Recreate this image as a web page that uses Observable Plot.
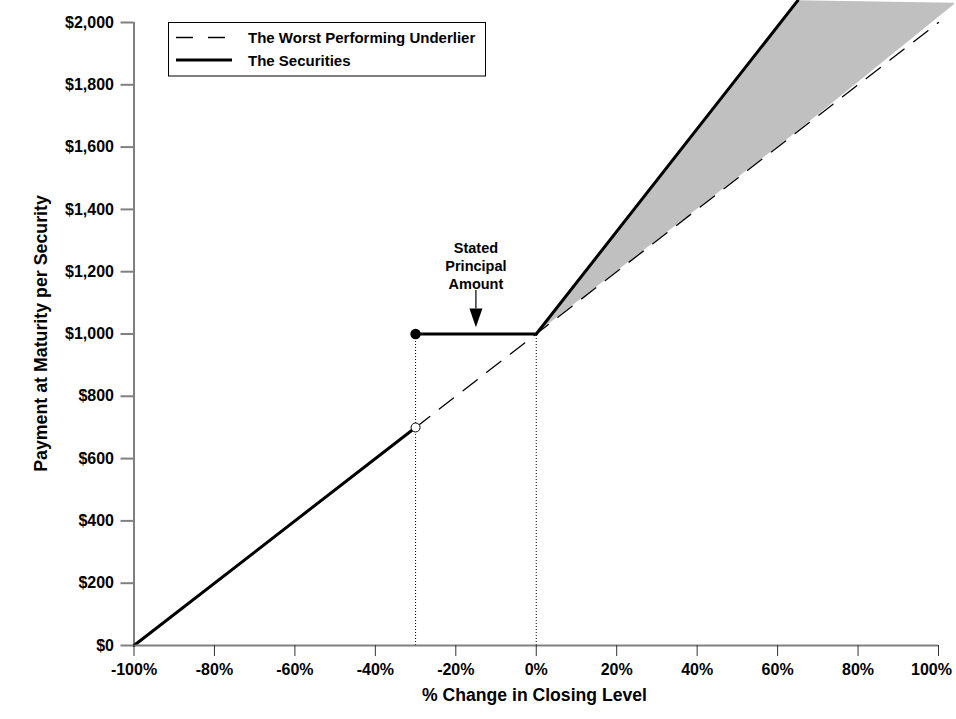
<!DOCTYPE html>
<html>
<head>
<meta charset="utf-8">
<script src="https://cdn.jsdelivr.net/npm/d3@7"></script>
<script src="https://cdn.jsdelivr.net/npm/@observablehq/plot@0.6"></script>
<style>
  html, body { margin: 0; padding: 0; background: #fff; }
  #chart svg { display: block; }
</style>
</head>
<body>
<div id="chart"></div>
<script>
// ---- data ----
const xTicks = [-100, -80, -60, -40, -20, 0, 20, 40, 60, 80, 100];
const yTicks = [0, 200, 400, 600, 800, 1000, 1200, 1400, 1600, 1800, 2000];

// The Securities (payment at maturity)
const secLowX = [-100, -30];
const secLowY = [0, 700];
const secFlatX = [-30, 0];
const secFlatY = [1000, 1000];
const secUpX = [0, 65];
const secUpY = [1000, 2070];

// The Worst Performing Underlier
const undX = [-30, 100];
const undY = [700, 2000];

// Shaded region between securities and underlier
const shadeX = [0, 65, 104];
const shadeLow = [1000, 1650, 2058];
const shadeHigh = [1000, 2070, 2062];

// Markers
const filledPt = {x: -30, y: 1000};
const openPt = {x: -30, y: 700};
const guideX = [-30, 0];
const guideTop = 1000;

// Annotation
const noteX = -15;
const noteY = 1222;
const noteText = "Stated\nPrincipal\nAmount";
const arrowTop = 1140;
const arrowBase = 1080;
const arrowTip = 1022;

const legendItems = ["The Worst Performing Underlier", "The Securities"];
const xTitle = "% Change in Closing Level";
const yTitle = "Payment at Maturity per Security";

// ---- tables ----
const toRows = (xs, ys) => xs.map((x, i) => ({x, y: ys[i]}));
const shadeRows = shadeX.map((x, i) => ({x, y1: shadeLow[i], y2: shadeHigh[i]}));
const lastX = xTicks[xTicks.length - 1];
const fmtX = d => d + "%";

const arrowHead = {
  draw(context) {
    context.moveTo(0, 0);
    context.lineTo(-6.5, -18.6);
    context.lineTo(6.5, -18.6);
    context.closePath();
  }
};

const font = "'Liberation Sans', Arial, Helvetica, sans-serif";

const chart = Plot.plot({
  width: 956,
  height: 719,
  marginLeft: 133.5,
  marginRight: 18,
  marginTop: 22,
  marginBottom: 74,
  style: {fontFamily: font, background: "#fff", color: "#000"},
  x: {domain: [-100, 100]},
  y: {domain: [0, 2000]},
  marks: [
    Plot.areaY(shadeRows, {x: "x", y1: "y1", y2: "y2", fill: "#c0c0c0", curve: "linear"}),
    Plot.ruleX(guideX, {y1: 0, y2: guideTop, stroke: "#000", strokeWidth: 1, strokeDasharray: "1,2"}),
    Plot.line(toRows(undX, undY), {x: "x", y: "y", stroke: "#000", strokeWidth: 1.3, strokeDasharray: "18,12"}),
    Plot.line(toRows(secLowX, secLowY), {x: "x", y: "y", stroke: "#000", strokeWidth: 3}),
    Plot.line(toRows(secFlatX, secFlatY), {x: "x", y: "y", stroke: "#000", strokeWidth: 3}),
    Plot.line(toRows(secUpX, secUpY), {x: "x", y: "y", stroke: "#000", strokeWidth: 3}),
    Plot.dot([filledPt], {x: "x", y: "y", r: 4.5, fill: "#000", stroke: "#000"}),
    Plot.dot([openPt], {x: "x", y: "y", r: 4.5, fill: "#fff", stroke: "#000", strokeWidth: 1}),
    Plot.ruleX([noteX], {y1: arrowBase, y2: arrowTop, stroke: "#000", strokeWidth: 1.2}),
    Plot.dot([{x: noteX, y: arrowTip}], {x: "x", y: "y", r: 5, symbol: arrowHead, fill: "#000", stroke: "none"}),
    Plot.text([noteText], {x: noteX, y: noteY, text: d => d, fontSize: 14.5, fontWeight: "bold", lineHeight: 1.25, textAnchor: "middle", fill: "#000"}),
    Plot.ruleY([0], {x1: -100, x2: 100, stroke: "#808080", strokeWidth: 2}),
    Plot.ruleX([-100], {y1: 0, y2: 2000, stroke: "#000", strokeWidth: 1}),
    Plot.axisY({ticks: yTicks, tickSize: 13, tickPadding: 7, tickFormat: d => "$" + d3.format(",")(d),
      fontSize: 16, fontWeight: "bold", stroke: "#808080", strokeWidth: 2, fill: "#000", label: null}),
    Plot.axisX({ticks: xTicks, tickSize: 11, tickPadding: 7, tickFormat: d => d === lastX ? "" : fmtX(d),
      fontSize: 16, fontWeight: "bold", stroke: "#333", strokeWidth: 1, fill: "#000", label: null}),
    Plot.text([lastX], {x: d => d, y: 0, text: fmtX, dy: 24, dx: -7, fontSize: 16, fontWeight: "bold", fill: "#000"})
  ]
});

document.getElementById("chart").appendChild(chart);

// ---- titles and legend ----
const svg = d3.select(chart);
svg.append("text")
  .attr("x", 534.5).attr("y", 701)
  .attr("text-anchor", "middle")
  .style("font-family", font).style("font-size", "17.6px").style("font-weight", "bold")
  .text(xTitle);
svg.append("text")
  .attr("transform", "translate(47,333.5) rotate(-90)")
  .attr("text-anchor", "middle")
  .style("font-family", font).style("font-size", "17.8px").style("font-weight", "bold")
  .text(yTitle);

const lg = svg.append("g").attr("text-anchor", "start");
lg.append("rect").attr("x", 168.5).attr("y", 22.5).attr("width", 317).attr("height", 53.5)
  .attr("fill", "#fff").attr("stroke", "#000").attr("stroke-width", 1);
lg.append("line").attr("x1", 176).attr("x2", 232).attr("y1", 37.5).attr("y2", 37.5)
  .attr("stroke", "#000").attr("stroke-width", 1.3).attr("stroke-dasharray", "17,15");
lg.append("line").attr("x1", 176).attr("x2", 232).attr("y1", 60).attr("y2", 60)
  .attr("stroke", "#000").attr("stroke-width", 3);
legendItems.forEach((t, i) => {
  lg.append("text").attr("x", 248).attr("y", 42.5 + i * 23)
    .attr("text-anchor", "start")
    .style("font-family", font).style("font-size", "15px").style("font-weight", "bold")
    .text(t);
});
</script>
</body>
</html>
